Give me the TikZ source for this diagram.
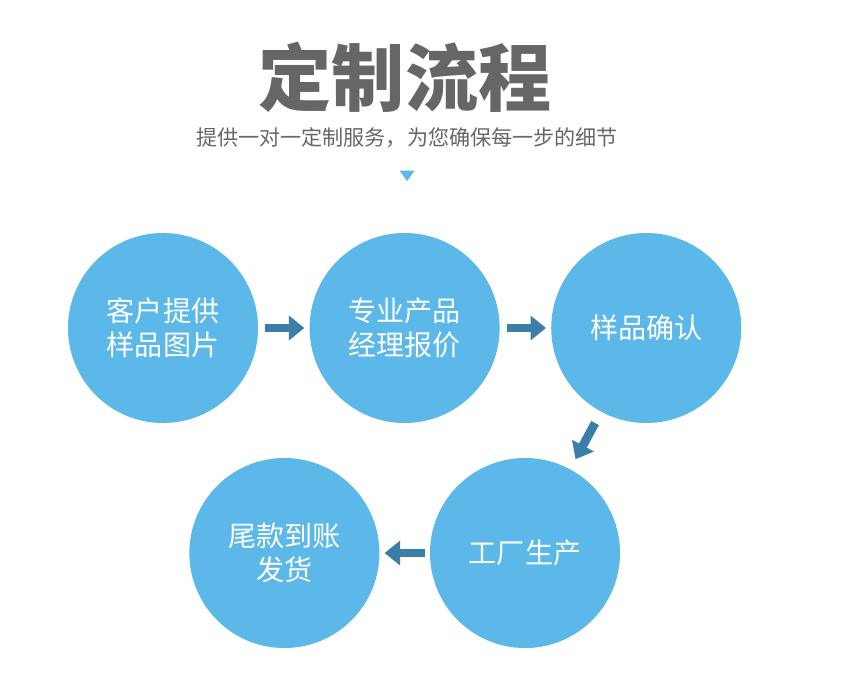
\documentclass[tikz,border=0pt]{standalone}
\usepackage{fontspec}
\setmainfont{Noto Sans CJK SC}
\usepackage{xcolor}
\usepackage{tikz}
\usetikzlibrary{arrows.meta, positioning, shapes.geometric}

\definecolor{stepblue}{RGB}{91,184,232}
\definecolor{flowblue}{RGB}{58,127,168}
\definecolor{titlegray}{RGB}{102,102,102}

\begin{document}
\begin{tikzpicture}[
  x=0.025cm, y=-0.025cm,
  stepcircle/.style={circle, fill=stepblue, minimum size=4.75cm, inner sep=0pt, align=center,
    text=white, font=\fontsize{20}{24}\selectfont},
  flow/.style={-{Triangle[width=17pt, length=11pt]}, draw=flowblue, line width=6.2pt}
]
\useasboundingbox (0,0) rectangle (846,689);

% Title
\node[text=titlegray, font=\fontsize{52}{56}\selectfont\bfseries] (title) at (405,77) {定制流程};
\node[text=titlegray, font=\fontsize{15}{18}\selectfont] (subtitle) at (407,138) {提供一对一定制服务，为您确保每一步的细节};
\node[fill=stepblue, isosceles triangle, isosceles triangle apex angle=70, shape border rotate=-90,
  inner sep=0pt, minimum width=10pt, minimum height=7.5pt, below=23pt of subtitle.center] (mark) {};

% Steps
\node[stepcircle] (quote) at (163,328) {客户提供\\样品图片};
\node[stepcircle, right=1.275cm of quote] (manager) {专业产品\\经理报价};
\node[stepcircle, right=1.275cm of manager] (sample) {样品确认};
\node[stepcircle] (factory) at (525,553) {工厂生产};
\node[stepcircle, left=1.25cm of factory] (payment) {尾款到账\\发货};

% Arrows
\draw[flow, shorten <=5pt, shorten >=3.5pt] (quote) -- (manager);
\draw[flow, shorten <=5pt, shorten >=3.5pt] (manager) -- (sample);
\draw[flow, shorten <=9pt, shorten >=8pt] (sample) -- (factory);
\draw[flow, shorten <=3.5pt, shorten >=3.5pt] (factory) -- (payment);
\end{tikzpicture}
\end{document}
